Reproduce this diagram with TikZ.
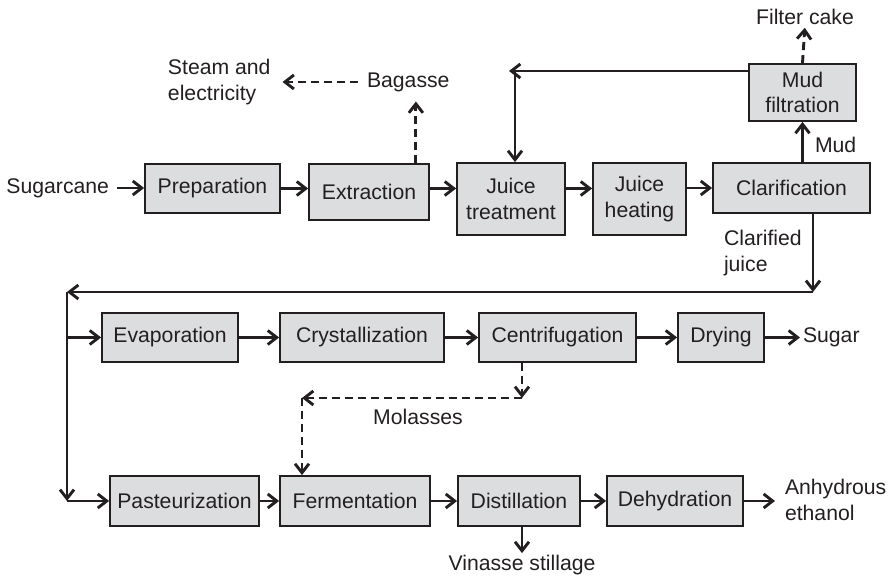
\documentclass[tikz,border=0pt]{standalone}
\usepackage{fontspec}
\setmainfont{Liberation Sans}
\usetikzlibrary{arrows.meta,calc}
\definecolor{ink}{RGB}{35,31,32}
\definecolor{boxfill}{RGB}{220,221,223}

\begin{document}
\begin{tikzpicture}[x=0.5pt,y=-0.5pt,
  every node/.style={font=\fontsize{10.6}{12.9}\selectfont, text=ink},
  proc/.style={draw=ink, fill=boxfill, line width=0.9pt, inner sep=0pt, align=center},
  lbl/.style={inner sep=0pt, outer sep=0pt, align=left},
  flow/.style={draw=ink, line width=1.45pt, -{Straight Barb[length=4.5pt,width=7pt]}},
  byflow/.style={flow, dash pattern=on 4pt off 2.5pt}]

\useasboundingbox (0,0) rectangle (891,576);

% process units
\node[proc, minimum width=67.5pt, minimum height=24.5pt] (prep)   at (212.5,188.5) {Preparation};
\node[proc, minimum width=60pt,   minimum height=28pt]   (extr)   at (369,192)     {Extraction};
\node[proc, minimum width=54pt,   minimum height=36pt]   (jtreat) at (511,199)     {Juice\\treatment};
\node[proc, minimum width=46.5pt, minimum height=36pt]   (jheat)  at (639.5,199)   {Juice\\heating};
\node[proc, minimum width=78.5pt, minimum height=25pt]   (clar)   at (791.5,188)   {Clarification};
\node[proc, minimum width=53.5pt, minimum height=28.5pt] (mudf)   at (802.5,92.5)  {Mud\\filtration};
\node[proc, minimum width=68pt,   minimum height=24.5pt] (evap)   at (170,337.5)   {Evaporation};
\node[proc, minimum width=82pt,   minimum height=24.5pt] (cryst)  at (362,337.5)   {Crystallization};
\node[proc, minimum width=78.5pt, minimum height=24.5pt] (centr)  at (557.5,337.5) {Centrifugation};
\node[proc, minimum width=43pt,   minimum height=24.5pt] (dry)    at (721,337.5)   {Drying};
\node[proc, minimum width=74.5pt, minimum height=25pt]   (past)   at (184.5,501)   {Pasteurization};
\node[proc, minimum width=75pt,   minimum height=25pt]   (ferm)   at (355,501)     {Fermentation};
\node[proc, minimum width=61pt,   minimum height=25pt]   (dist)   at (519,501)     {Distillation};
\node[proc, minimum width=68pt,   minimum height=25pt]   (dehy)   at (675,501)     {Dehydration};

% inputs, products and stream labels
\node[lbl, anchor=east] (cane)    at (109,188) {Sugarcane};
\node[lbl, anchor=west] (steam)   at (168,82)  {Steam and\\electricity};
\node[lbl, anchor=west] (bagasse) at (367,82)  {Bagasse};
\node[lbl]              (cake)    at (805,17)  {Filter cake};
\node[lbl, anchor=west] (mud)     at (815,145) {Mud};
\node[lbl, anchor=west] (cjuice)  at (724,253) {Clarified\\juice};
\node[lbl, anchor=west] (sugar)   at (803,337) {Sugar};
\node[lbl]              (molas)   at (418,417) {Molasses};
\node[lbl, anchor=west] (eth)     at (785,500) {Anhydrous\\ethanol};
\node[lbl]              (vin)     at (522,565) {Vinasse stillage};

% routing points
\coordinate (rtop) at (509,71);
\coordinate (cj)   at (813,292);
\coordinate (lj)   at (67,292);
\coordinate (mr)   at (522,398);
\coordinate (ml)   at (302,398);

% juice line
\draw[flow, shorten <=4pt] (cane.east) -- (cane.east -| prep.west);
\draw[flow] (prep.east) -- (prep.east -| extr.west);
\draw[flow] (extr.east |- prep.east) -- (prep.east -| jtreat.west);
\draw[flow] (jtreat.east |- prep.east) -- (prep.east -| jheat.west);
\draw[flow] (jheat.east |- clar.west) -- (clar.west);

% bagasse
\draw[byflow, shorten >=5pt] ([xshift=-7pt]extr.north east) -- ([xshift=-7pt]extr.north east |- bagasse.south);
\draw[byflow, shorten <=4.5pt, shorten >=6pt] (bagasse.west) -- (bagasse.west -| steam.east);

% mud loop
\draw[flow] (clar.north -| mudf.south) -- (mudf.south);
\draw[byflow, shorten >=1.5pt] (mudf.north) -- (cake.south);
\draw[flow] (mudf.west |- rtop) -- (rtop);
\draw[flow] ([xshift=2pt]jtreat.north |- rtop) -- ([xshift=2pt]jtreat.north);

% clarified juice distribution
\draw[flow] (clar.south -| cj) -- (cj);
\draw[flow] (cj) -- (lj);
\draw[flow] (lj) -- (lj |- past.west);
\draw[flow] (lj |- evap.west) -- (evap.west);
\draw[flow] (lj |- past.west) -- (past.west);

% sugar line
\draw[flow] (evap.east) -- (cryst.west);
\draw[flow] (cryst.east) -- (centr.west);
\draw[flow] (centr.east) -- (dry.west);
\draw[flow, shorten >=1.5pt] (dry.east) -- (dry.east -| sugar.west);

% molasses
\draw[byflow] (mr |- centr.south) -- (mr);
\draw[byflow] (mr) -- (ml);
\draw[byflow] (ml) -- (ml |- ferm.north);

% ethanol line
\draw[flow] (past.east) -- (ferm.west);
\draw[flow] (ferm.east) -- (dist.west);
\draw[flow] (dist.east) -- (dehy.west);
\draw[flow, shorten >=5pt] (dehy.east) -- (dehy.east -| eth.west);
\draw[flow, shorten >=1pt] ([xshift=1.5pt]dist.south) -- ([xshift=1.5pt]dist.south |- vin.north);

\end{tikzpicture}
\end{document}
